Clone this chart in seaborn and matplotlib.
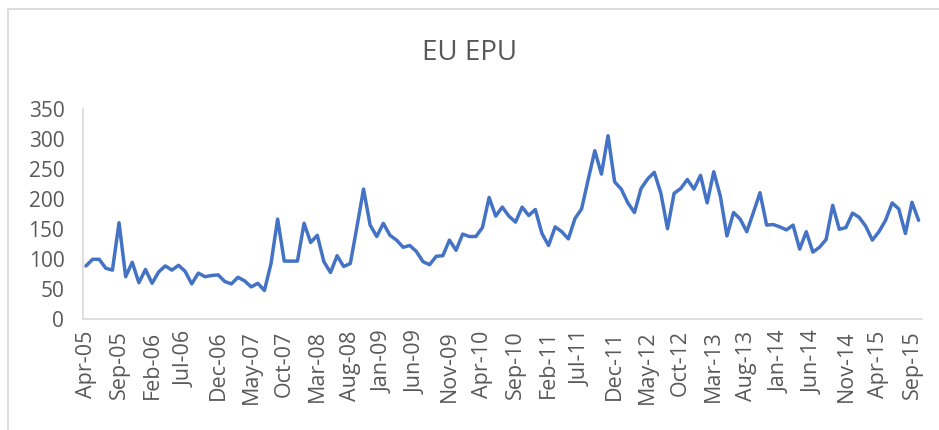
import numpy as np
import pandas as pd
import matplotlib
matplotlib.use("Agg")
import matplotlib.pyplot as plt
from matplotlib.patches import Rectangle
import seaborn as sns

# ---- data ----
start_month = "2005-04"
n_months = 127
epu_values = [
    89, 100, 100, 85, 82, 161, 71, 95, 61, 83, 60, 79, 89, 82, 90, 80, 59, 77, 71, 73,
    74, 63, 59, 70, 64, 54, 60, 48, 93, 167, 97,
    97, 97, 160, 128, 140, 96, 78, 106, 88, 93, 154, 217, 157, 138, 160, 140, 132, 120,
    123, 113, 96, 91, 105, 106, 132, 115, 142, 138, 138, 153, 203, 172,
    187, 172, 162, 187, 173, 183, 143, 123, 154, 146, 134, 168, 184, 233, 281, 242, 306,
    229, 217, 194, 178, 218, 234, 245, 210, 151, 210, 218, 233, 217, 240, 194,
    246, 205, 139, 178, 167, 146, 178, 211, 157, 158, 154, 149, 157, 117, 146, 112, 120,
    133, 190, 150, 153, 177, 170, 155, 132, 146, 165, 194, 184, 143, 195, 165,
]
title_text = "EU EPU"
y_ticks = [0, 50, 100, 150, 200, 250, 300, 350]
label_step = 5

dates = pd.date_range(start_month, periods=n_months, freq="MS")
month_labels = [d.strftime("%b-%y") for d in dates]
df = pd.DataFrame({"idx": np.arange(n_months), "EPU": epu_values})

# ---- style ----
sns.set_style("white")
plt.rcParams["font.family"] = ["Open Sans", "DejaVu Sans"]
text_color = "#595959"
axis_color = "#D9D9D9"

fig = plt.figure(figsize=(9.39, 4.30), dpi=100)
ax = fig.add_axes([82.7 / 939, 1 - 319.3 / 430, (921.9 - 82.7) / 939, (319.3 - 109.3) / 430])

sns.lineplot(data=df, x="idx", y="EPU", ax=ax, color="#4472C4", linewidth=2.5)

ax.set_xlim(-0.5, n_months - 0.5)
ax.set_ylim(0, 350)
ax.set_xlabel("")
ax.set_ylabel("")

# y axis
ax.set_yticks(y_ticks)
ax.set_yticklabels([str(v) for v in y_ticks])
ax.tick_params(axis="y", which="major", direction="out", length=5.2, width=1,
               color=axis_color, labelcolor=text_color, labelsize=15, pad=8)

# x axis: labels at category centres, tick marks at boundaries
label_pos = np.arange(0, n_months, label_step)
ax.set_xticks(label_pos)
ax.set_xticklabels([month_labels[i] for i in label_pos], rotation=90)
ax.tick_params(axis="x", which="major", length=0, labelcolor=text_color,
               labelsize=15.5, pad=8)
ax.set_xticks(label_pos - 0.5, minor=True)
ax.tick_params(axis="x", which="minor", direction="out", length=4.5, width=1,
               color=axis_color)

for side in ["top", "right"]:
    ax.spines[side].set_visible(False)
for side in ["left", "bottom"]:
    ax.spines[side].set_visible(True)
    ax.spines[side].set_color(axis_color)
    ax.spines[side].set_linewidth(1.2)
ax.grid(False)

fig.text(470 / 939, 1 - 53 / 430, title_text, ha="center", va="center",
         fontsize=20, color=text_color)

# outer chart border
fig.patches.append(Rectangle((8 / 939, -0.1), 1.2, 1 - 9 / 430 + 0.1,
                             transform=fig.transFigure, fill=False,
                             edgecolor=axis_color, linewidth=1.3))

fig.savefig("out.png", dpi=100)
